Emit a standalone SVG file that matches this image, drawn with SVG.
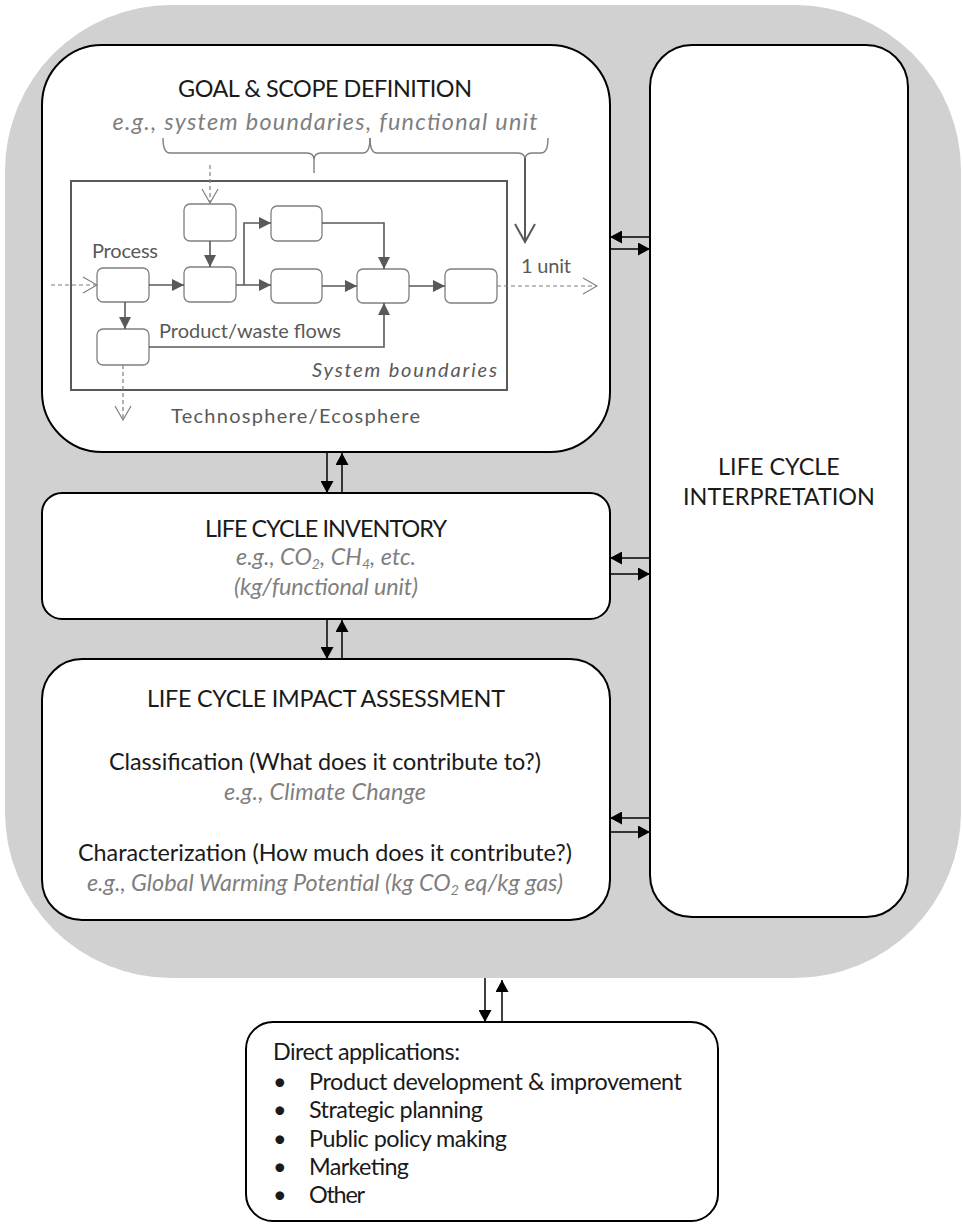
<svg xmlns="http://www.w3.org/2000/svg" width="963" height="1226" viewBox="0 0 963 1226">
<style>
.t{font-family:Lato,"Liberation Sans",sans-serif;fill:#1a1a1a;font-size:23.4px}
.c{text-anchor:middle}
.eg{font-style:italic;fill:#7f7f7f}
.lb{fill:#595959;font-size:20px}
.big{fill:#fff;stroke:#000;stroke-width:2}
.pb{fill:#fff;stroke:#7f7f7f;stroke-width:1.3}
.k{stroke:#000;stroke-width:1.5;fill:none}
.g{stroke:#595959;stroke-width:1.6;fill:none}
.d{stroke:#7f7f7f;stroke-width:1.2;fill:none;stroke-dasharray:4 3}
.br{stroke:#7f7f7f;stroke-width:1.4;fill:none}
</style>
<defs>
<marker id="ah" viewBox="0 0 12 13" refX="12" refY="6.5" markerWidth="12" markerHeight="13" markerUnits="userSpaceOnUse" orient="auto"><path d="M0,0 L12,6.5 L0,13 z" fill="#000"/></marker>
<marker id="gh" viewBox="0 0 12 12" refX="12" refY="6" markerWidth="12" markerHeight="12" markerUnits="userSpaceOnUse" orient="auto"><path d="M0,0 L12,6 L0,12 z" fill="#595959"/></marker>
<marker id="ov" viewBox="-1 -1 16 18" refX="14" refY="8" markerWidth="16" markerHeight="18" markerUnits="userSpaceOnUse" orient="auto"><path d="M0,0 L14,8 L0,16" fill="none" stroke="#7f7f7f" stroke-width="1.2"/></marker>
<marker id="ovl" viewBox="-2 -2 22 24" refX="18" refY="10" markerWidth="22" markerHeight="24" markerUnits="userSpaceOnUse" orient="auto"><path d="M0,0 L18,10 L0,20" fill="none" stroke="#595959" stroke-width="2"/></marker>
</defs>
<rect x="0" y="0" width="963" height="1226" fill="#fff"/>
<rect id="frame" x="5" y="5" width="956" height="973" rx="166" ry="166" fill="#d1d1d1"/>

<g id="goal">
<rect class="big" x="42" y="45" width="568" height="407" rx="60" ry="60"/>
<text class="t c" x="325" y="97" textLength="294">GOAL &amp; SCOPE DEFINITION</text>
<text class="t c eg" x="325" y="130" font-size="25" textLength="425">e.g., system boundaries, functional unit</text>
<path class="br" d="M163,138 Q163,153 170,153 H307 Q314,153 314,160 V173 M314,160 Q314,153 321,153 H363 Q370,153 370,138"/>
<path class="br" d="M370,138 Q370,153 377,153 H518 Q525,153 525,160 M525,160 Q525,153 532,153 H541 Q548,153 548,138"/>
<path d="M525,158 V242" stroke="#595959" stroke-width="2" fill="none" marker-end="url(#ovl)"/>
<rect x="71" y="181" width="436" height="209" fill="none" stroke="#595959" stroke-width="2"/>
<g id="procs">
<rect class="pb" x="184" y="204" width="52" height="37" rx="6"/>
<rect class="pb" x="271" y="206" width="51" height="35" rx="6"/>
<rect class="pb" x="97" y="268" width="52" height="34" rx="6"/>
<rect class="pb" x="184" y="267" width="52" height="35" rx="6"/>
<rect class="pb" x="271" y="269" width="51" height="34" rx="6"/>
<rect class="pb" x="357" y="269" width="52" height="34" rx="6"/>
<rect class="pb" x="445" y="269" width="52" height="34" rx="6"/>
<rect class="pb" x="97" y="329" width="52" height="36" rx="6"/>
</g>
<g id="flows">
<path class="g" d="M210,241 V267" marker-end="url(#gh)"/>
<path class="g" d="M149,285 H184" marker-end="url(#gh)"/>
<path class="g" d="M236,285 H271" marker-end="url(#gh)"/>
<path class="g" d="M244,285 V223 H271" marker-end="url(#gh)"/>
<path class="g" d="M322,223 H384 V269" marker-end="url(#gh)"/>
<path class="g" d="M322,286 H357" marker-end="url(#gh)"/>
<path class="g" d="M409,286 H445" marker-end="url(#gh)"/>
<path class="g" d="M125,302 V329" marker-end="url(#gh)"/>
<path class="g" d="M149,347 H384 V303" marker-end="url(#gh)"/>
<path class="d" d="M210,165 V203" marker-end="url(#ov)"/>
<path class="d" d="M51,285 H97" marker-end="url(#ov)"/>
<path class="d" d="M497,286 H597" marker-end="url(#ov)"/>
<path class="d" d="M123,365 V420" marker-end="url(#ov)"/>
</g>
<text class="t lb" x="92" y="258" textLength="66">Process</text>
<text class="t lb" x="159" y="338" font-size="20.4" textLength="182">Product/waste flows</text>
<text class="t lb" x="312" y="377" font-size="22.4" font-style="italic" textLength="185">System boundaries</text>
<text class="t lb" x="171" y="423" font-size="22.4" textLength="249">Technosphere/Ecosphere</text>
<text class="t lb" x="521" y="273" textLength="50">1 unit</text>
</g>

<g id="lci">
<rect class="big" x="42" y="493" width="568" height="126" rx="20" ry="20"/>
<text class="t c" x="326" y="537" textLength="242">LIFE CYCLE INVENTORY</text>
<text class="t c eg" x="326" y="565" font-size="22.6">e.g., CO<tspan dy="3.5" font-size="14">2</tspan><tspan dy="-3.5">, CH</tspan><tspan dy="3.5" font-size="14">4</tspan><tspan dy="-3.5">, etc.</tspan></text>
<text class="t c eg" x="326" y="595" font-size="22.4" textLength="184">(kg/functional unit)</text>
</g>

<g id="lcia">
<rect class="big" x="42" y="659" width="568" height="261" rx="40" ry="40"/>
<text class="t c" x="326" y="707" textLength="358">LIFE CYCLE IMPACT ASSESSMENT</text>
<text class="t c" x="325" y="770" font-size="23.6" textLength="432">Classification (What does it contribute to?)</text>
<text class="t c eg" x="325" y="800" font-size="23.3" textLength="202">e.g., Climate Change</text>
<text class="t c" x="325" y="861" font-size="23.6" textLength="494">Characterization (How much does it contribute?)</text>
<text class="t c eg" x="325" y="891" font-size="23.2">e.g., Global Warming Potential (kg CO<tspan dy="3.5" font-size="14">2</tspan><tspan dy="-3.5"> eq/kg gas)</tspan></text>
</g>

<g id="interp">
<rect class="big" x="650" y="45" width="258" height="872" rx="42" ry="42"/>
<text class="t c" x="779" y="475">LIFE CYCLE</text>
<text class="t c" x="779" y="505">INTERPRETATION</text>
</g>

<g id="apps">
<rect class="big" x="246" y="1022" width="472" height="199" rx="27" ry="27"/>
<text class="t" x="273" y="1060" font-size="22.6" textLength="187">Direct applications:</text>
<text class="t" x="273" y="1090" font-size="22.6">•</text>
<text class="t" x="273" y="1118" font-size="22.6">•</text>
<text class="t" x="273" y="1147" font-size="22.6">•</text>
<text class="t" x="273" y="1175" font-size="22.6">•</text>
<text class="t" x="273" y="1203" font-size="22.6">•</text>
<text class="t" x="309" y="1090" font-size="22.8" textLength="373">Product development &amp; improvement</text>
<text class="t" x="309" y="1118" font-size="22.6" textLength="174">Strategic planning</text>
<text class="t" x="309" y="1147" font-size="22.6" textLength="198">Public policy making</text>
<text class="t" x="309" y="1175" font-size="22.6" textLength="100">Marketing</text>
<text class="t" x="309" y="1203" font-size="22.6" textLength="56">Other</text>
</g>

<g id="connectors">
<path class="k" d="M650,237 H610" marker-end="url(#ah)"/>
<path class="k" d="M610,249 H650" marker-end="url(#ah)"/>
<path class="k" d="M650,558 H610" marker-end="url(#ah)"/>
<path class="k" d="M610,574 H650" marker-end="url(#ah)"/>
<path class="k" d="M650,818 H610" marker-end="url(#ah)"/>
<path class="k" d="M610,832 H650" marker-end="url(#ah)"/>
<path class="k" d="M327,452 V493" marker-end="url(#ah)"/>
<path class="k" d="M342,493 V453" marker-end="url(#ah)"/>
<path class="k" d="M327,619 V659" marker-end="url(#ah)"/>
<path class="k" d="M342,659 V620" marker-end="url(#ah)"/>
<path class="k" d="M485,978 V1022" marker-end="url(#ah)"/>
<path class="k" d="M502,1022 V980" marker-end="url(#ah)"/>
</g>
</svg>
